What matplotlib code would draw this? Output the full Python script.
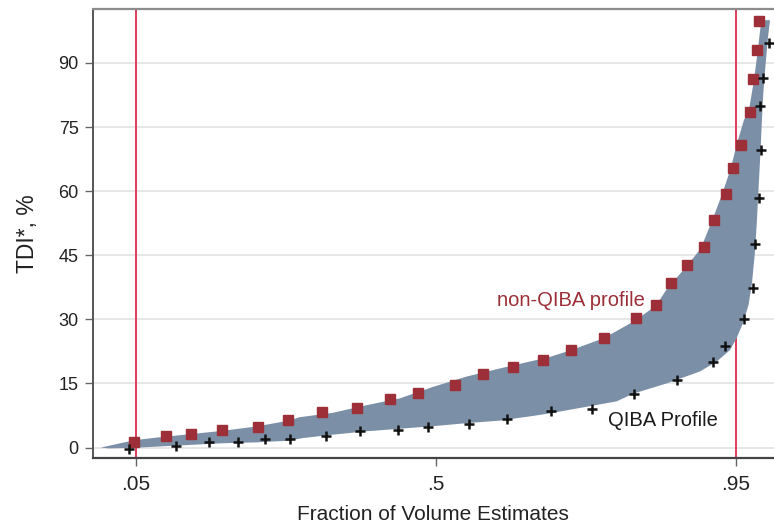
import matplotlib
matplotlib.use("Agg")
import matplotlib.pyplot as plt

plt.rcParams['font.family'] = ['Liberation Sans', 'DejaVu Sans']

# non-QIBA profile markers (fraction, TDI %)
nonqiba_x = [0.048, 0.096, 0.133, 0.180, 0.234, 0.278, 0.330, 0.382, 0.432, 0.473,
             0.529, 0.571, 0.615, 0.661, 0.703, 0.752, 0.800, 0.830, 0.852, 0.877,
             0.902, 0.917, 0.935, 0.946, 0.958, 0.971, 0.976, 0.982, 0.985]
nonqiba_y = [1.3, 2.8, 3.1, 4.1, 4.7, 6.4, 8.2, 9.2, 11.4, 12.8,
             14.6, 17.1, 18.9, 20.4, 22.8, 25.6, 30.2, 33.4, 38.5, 42.8,
             47.0, 53.3, 59.4, 65.4, 70.8, 78.5, 86.3, 93.1, 99.9]

# QIBA profile markers
qiba_x = [0.040, 0.110, 0.160, 0.203, 0.244, 0.282, 0.335, 0.387, 0.443, 0.489,
          0.550, 0.607, 0.673, 0.734, 0.797, 0.861, 0.916, 0.933, 0.962, 0.976,
          0.979, 0.984, 0.988, 0.986, 0.990, 1.000]
qiba_y = [-0.4, 0.35, 1.2, 1.4, 1.9, 2.0, 2.8, 3.9, 4.1, 4.9,
          5.5, 6.6, 8.5, 9.1, 12.6, 15.7, 20.1, 23.8, 30.0, 37.3,
          47.6, 58.5, 69.7, 80.0, 86.5, 94.6]

# shaded band: upper boundary
band_up_x = [-0.002, 0.010, 0.030, 0.050, 0.080, 0.130, 0.180, 0.230, 0.280, 0.296,
             0.345, 0.396, 0.446, 0.496, 0.546, 0.596, 0.646, 0.671, 0.703, 0.752,
             0.800, 0.830, 0.846, 0.877, 0.897, 0.914, 0.929, 0.942, 0.951, 0.962,
             0.969, 0.977, 0.982, 0.988]
band_up_y = [0.0, 0.4, 1.1, 1.75, 2.3, 3.1, 3.9, 4.9, 6.3, 7.1,
             8.1, 9.9, 11.5, 14.2, 16.6, 18.5, 20.3, 21.2, 22.8, 25.6,
             29.8, 33.2, 37.0, 42.6, 46.5, 53.0, 59.2, 65.2, 70.8, 76.7,
             78.5, 86.0, 92.0, 100.0]
# shaded band: lower boundary
band_lo_x = [-0.002, 0.010, 0.050, 0.080, 0.130, 0.180, 0.230, 0.280, 0.300, 0.345,
             0.396, 0.446, 0.496, 0.546, 0.596, 0.646, 0.671, 0.721, 0.771, 0.796,
             0.846, 0.896, 0.921, 0.941, 0.951, 0.961, 0.969, 0.974, 0.978, 0.981,
             0.984, 0.987, 0.989, 0.991, 0.994, 0.998, 1.001]
band_lo_y = [0.0, -0.2, -0.05, 0.2, 0.6, 1.0, 1.2, 1.6, 2.2, 3.0,
             3.8, 4.4, 5.0, 5.7, 6.3, 7.4, 8.0, 9.4, 10.8, 12.6,
             15.0, 17.8, 20.1, 22.8, 25.6, 29.3, 33.5, 38.5, 45.0, 52.0,
             61.0, 70.0, 77.0, 83.0, 89.0, 96.0, 100.0]

x_ticks = [0.05, 0.5, 0.95]
x_ticklabels = ['.05', '.5', '.95']
y_ticks = [0, 15, 30, 45, 60, 75, 90]
ref_lines = [0.05, 0.95]

W, H = 774, 529
fig = plt.figure(figsize=(W / 100, H / 100), dpi=100)
ax = fig.add_axes([92.5 / W, 1 - 458 / H, (W - 92.5) / W, (458 - 9.1) / H])

for v in ref_lines:
    ax.axvline(v, color='#e23a5a', lw=1.4, zorder=1)

poly_x = band_up_x + band_lo_x[::-1]
poly_y = band_up_y + band_lo_y[::-1]
ax.fill(poly_x, poly_y, color='#7b8fa6', lw=0, zorder=2)

ax.plot(nonqiba_x, nonqiba_y, ls='none', marker='s', ms=6.8, color='#9c2f37',
        mec='#9c2f37', zorder=4)
ax.plot(qiba_x, qiba_y, ls='none', marker='+', ms=7, mew=1.8, color='#111111', zorder=4)

ax.text(571 / W, 1 - 300 / H, 'non-QIBA profile', transform=fig.transFigure,
        color='#9c2f37', fontsize=14.5, ha='center', va='center')
ax.text(663 / W, 1 - 420 / H, 'QIBA Profile', transform=fig.transFigure,
        color='#1a1a1a', fontsize=14.5, ha='center', va='center')

ax.set_xlim(-0.0146, 1.007)
ax.set_ylim(-2.45, 102.6)
ax.set_xticks(x_ticks)
ax.set_xticklabels(x_ticklabels)
ax.set_yticks(y_ticks)
ax.grid(axis='y', color='#e3e3e3', lw=1.2, zorder=0)
ax.set_axisbelow(True)

ax.tick_params(axis='both', direction='out', length=6, width=1, color='#666666',
               labelcolor='#222222')
ax.tick_params(axis='x', labelsize=15, pad=6)
ax.tick_params(axis='y', labelsize=13, pad=4)

ax.spines['right'].set_visible(False)
ax.spines['top'].set_color('#8c8c8c')
ax.spines['top'].set_linewidth(1.6)
ax.spines['left'].set_color('#555555')
ax.spines['left'].set_linewidth(1.4)
ax.spines['bottom'].set_color('#444444')
ax.spines['bottom'].set_linewidth(1.6)

ax.set_xlabel('Fraction of Volume Estimates', fontsize=15, color='#222222', labelpad=8)
ax.set_ylabel('TDI*, %', fontsize=16.5, color='#222222', labelpad=14)

fig.savefig('out.png', dpi=100)
